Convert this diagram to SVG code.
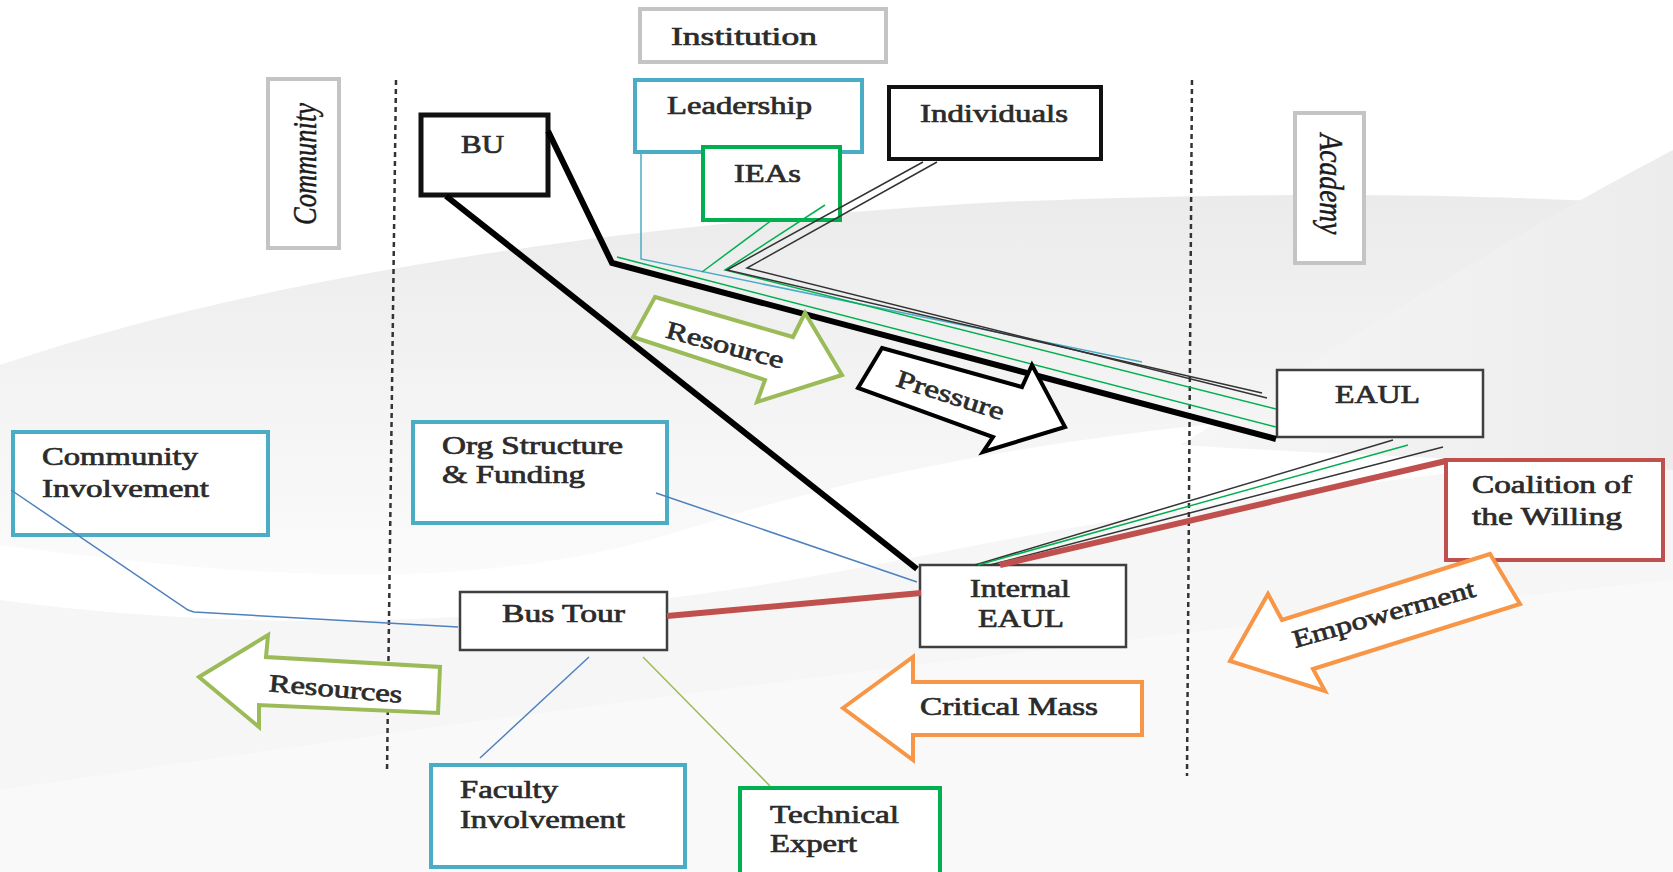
<svg xmlns="http://www.w3.org/2000/svg" width="1673" height="872" viewBox="0 0 1673 872">
<defs>
<linearGradient id="bg1" x1="0" y1="0" x2="0" y2="1">
<stop offset="0" stop-color="#ebebeb"/>
<stop offset="0.5" stop-color="#f3f3f3"/>
<stop offset="1" stop-color="#fbfbfb"/>
</linearGradient>
<linearGradient id="bg2" x1="0" y1="0" x2="1" y2="0">
<stop offset="0" stop-color="#f6f6f6"/>
<stop offset="1" stop-color="#ececec"/>
</linearGradient>
<style>
.box{fill:#fff;stroke-width:4}
.blue{stroke:#4bacc6}
.green{stroke:#00b050}
.black{stroke:#111}
.grey{stroke:#c4c4c4}
.dark{stroke:#3f3f3f;stroke-width:2.5}
.red{stroke:#c0504d}
.t{font-family:"Liberation Serif","Times New Roman",serif;font-size:25px;fill:#2b2b2b;stroke:#2b2b2b;stroke-width:0.7}
.it{font-family:"Liberation Serif","Times New Roman",serif;font-size:27px;fill:#1a1a1a;font-style:italic;stroke:#1a1a1a;stroke-width:0.4}
.ln{fill:none;stroke-linejoin:miter}
.thin{stroke-width:1.5}
.thick{stroke-width:6}
.arrow{fill:#fff;stroke-width:4;stroke-linejoin:miter}
.dot{stroke:#333;stroke-width:2.5;stroke-dasharray:5 4;fill:none}
</style>
</defs>
<rect width="1673" height="872" fill="#fff"/>
<g id="background">
<path d="M0,365 C250,280 600,225 1000,202 C1300,190 1500,195 1673,205 L1673,420 C1400,390 1000,430 700,525 C500,590 300,585 0,545 Z" fill="url(#bg1)"/>
<path d="M0,600 C300,640 600,620 900,560 C1200,500 1450,470 1673,450 L1673,872 L0,872 Z" fill="#f6f6f6"/>
<path d="M0,790 C400,730 900,660 1673,580 L1673,872 L0,872 Z" fill="#f9f9f9"/>
<path d="M1180,445 C1350,340 1500,240 1673,150 L1673,470 C1500,460 1350,455 1180,445 Z" fill="url(#bg2)"/>
</g>
<g id="dividers">
<line class="dot" x1="396" y1="80" x2="387" y2="773"/>
<line class="dot" x1="1192" y1="80" x2="1187" y2="776"/>
</g>
<g id="node-community">
<rect class="box grey" x="268" y="79" width="71" height="169"/>
<text class="it" transform="translate(316,164) rotate(-90) scale(1,1.22)" text-anchor="middle" textLength="122" lengthAdjust="spacingAndGlyphs">Community</text>
</g>
<g id="node-academy">
<rect class="box grey" x="1295" y="113" width="69" height="150"/>
<text class="it" transform="translate(1320,184) rotate(90) scale(1,1.22)" text-anchor="middle" textLength="101" lengthAdjust="spacingAndGlyphs">Academy</text>
</g>
<g id="node-institution">
<rect class="box grey" x="640" y="9" width="246" height="53"/>
<text class="t" x="671" y="45" textLength="146" lengthAdjust="spacingAndGlyphs">Institution</text>
</g>
<g id="node-leadership">
<rect class="box blue" x="635" y="80" width="227" height="72"/>
<text class="t" x="667" y="114" textLength="145" lengthAdjust="spacingAndGlyphs">Leadership</text>
</g>
<g id="node-ieas">
<rect class="box green" x="703" y="147" width="137" height="73"/>
<text class="t" x="734" y="182" textLength="67" lengthAdjust="spacingAndGlyphs">IEAs</text>
</g>
<g id="node-individuals">
<rect class="box black" x="889" y="87" width="212" height="72"/>
<text class="t" x="920" y="122" textLength="148" lengthAdjust="spacingAndGlyphs">Individuals</text>
</g>
<g id="node-bu">
<rect class="box black" x="421" y="115" width="127" height="80" style="stroke-width:5"/>
<text class="t" x="461" y="153" textLength="43" lengthAdjust="spacingAndGlyphs">BU</text>
</g>
<g id="node-eaul">
<rect class="box dark" x="1277" y="370" width="206" height="67"/>
<text class="t" x="1335" y="403" textLength="85" lengthAdjust="spacingAndGlyphs">EAUL</text>
</g>
<g id="node-coalition">
<rect class="box red" x="1446" y="460" width="217" height="100"/>
<text class="t" x="1472" y="493" textLength="160" lengthAdjust="spacingAndGlyphs">Coalition of</text>
<text class="t" x="1472" y="525" textLength="150" lengthAdjust="spacingAndGlyphs">the Willing</text>
</g>
<g id="node-internal-eaul">
<rect class="box dark" x="920" y="565" width="206" height="82"/>
<text class="t" x="970" y="597" textLength="100" lengthAdjust="spacingAndGlyphs">Internal</text>
<text class="t" x="978" y="627" textLength="86" lengthAdjust="spacingAndGlyphs">EAUL</text>
</g>
<g id="node-bus-tour">
<rect class="box dark" x="460" y="592" width="207" height="58"/>
<text class="t" x="502" y="622" textLength="123" lengthAdjust="spacingAndGlyphs">Bus Tour</text>
</g>
<g id="node-org-structure">
<rect class="box blue" x="413" y="422" width="254" height="101"/>
<text class="t" x="442" y="454" textLength="181" lengthAdjust="spacingAndGlyphs">Org Structure</text>
<text class="t" x="442" y="483" textLength="143" lengthAdjust="spacingAndGlyphs">&amp; Funding</text>
</g>
<g id="node-community-involvement">
<rect class="box blue" x="13" y="432" width="255" height="103"/>
<text class="t" x="42" y="465" textLength="156" lengthAdjust="spacingAndGlyphs">Community</text>
<text class="t" x="42" y="497" textLength="167" lengthAdjust="spacingAndGlyphs">Involvement</text>
</g>
<g id="node-faculty-involvement">
<rect class="box blue" x="431" y="765" width="254" height="102"/>
<text class="t" x="460" y="798" textLength="98" lengthAdjust="spacingAndGlyphs">Faculty</text>
<text class="t" x="460" y="828" textLength="165" lengthAdjust="spacingAndGlyphs">Involvement</text>
</g>
<g id="node-technical-expert">
<rect class="box green" x="740" y="788" width="200" height="95"/>
<text class="t" x="770" y="823" textLength="129" lengthAdjust="spacingAndGlyphs">Technical</text>
<text class="t" x="770" y="852" textLength="87" lengthAdjust="spacingAndGlyphs">Expert</text>
</g>
<g id="connectors">
<path class="ln thin" stroke="#4bacc6" d="M641,152 L641,259 L1142,362"/>
<path class="ln thin" stroke="#00b050" d="M772,220 L702,272"/>
<path class="ln thin" stroke="#00b050" d="M617,257 L1276,427"/>
<path class="ln thin" stroke="#00b050" d="M825,205 L725,270 L1276,409"/>
<path class="ln thin" stroke="#333" d="M923,162 L727,270 L1262,393"/>
<path class="ln thin" stroke="#333" d="M937,162 L747,268 L1267,398"/>
<path class="ln thick" stroke="#000" d="M548,131 L612,263 L1276,439"/>
<path class="ln thick" stroke="#000" d="M446,196 L917,569"/>
<path class="ln thin" stroke="#333" d="M1393,440 L975,565"/>
<path class="ln thin" stroke="#00b050" d="M1408,445 L978,565"/>
<path class="ln thin" stroke="#333" d="M1443,447 L990,565"/>
<path class="ln thick" stroke="#c0504d" d="M1446,461 L1000,565"/>
<path class="ln thick" stroke="#c0504d" d="M667,616 L921,593"/>
<path class="ln thin" stroke="#4f81bd" d="M656,493 L917,582"/>
<path class="ln thin" stroke="#4f81bd" d="M11,490 L188,610 L194,612 L458,627"/>
<path class="ln thin" stroke="#4f81bd" d="M589,657 L480,758"/>
<path class="ln thin" stroke="#9bbb59" d="M643,657 L770,786"/>
</g>
<g id="arrow-resource">
<polygon class="arrow" stroke="#9bbb59" points="655,297 793,337 805,313 842,375 757,402 765,380 633,337"/>
<text class="t" x="723" y="353" text-anchor="middle" transform="rotate(15 723 353)" textLength="121" lengthAdjust="spacingAndGlyphs">Resource</text>
</g>
<g id="arrow-pressure">
<polygon class="arrow" stroke="#000" points="882,348 1022,387 1032,365 1065,427 983,452 993,437 858,388"/>
<text class="t" x="948" y="403" text-anchor="middle" transform="rotate(18 948 403)" textLength="112" lengthAdjust="spacingAndGlyphs">Pressure</text>
</g>
<g id="arrow-resources">
<polygon class="arrow" stroke="#9bbb59" points="199,677 268,635 266,657 440,667 438,713 259,705 259,727"/>
<text class="t" x="335" y="697" text-anchor="middle" transform="rotate(5 335 697)" textLength="134" lengthAdjust="spacingAndGlyphs">Resources</text>
</g>
<g id="arrow-critical-mass">
<polygon class="arrow" stroke="#f79646" points="843,708 913,657 913,682 1142,682 1142,735 913,735 913,760"/>
<text class="t" x="920" y="715" textLength="178" lengthAdjust="spacingAndGlyphs">Critical Mass</text>
</g>
<g id="arrow-empowerment">
<polygon class="arrow" stroke="#f79646" points="1230,661 1268,594 1282,620 1490,554 1520,604 1313,669 1325,691"/>
<text class="t" x="1386" y="622" text-anchor="middle" transform="rotate(-16 1386 622)" textLength="189" lengthAdjust="spacingAndGlyphs">Empowerment</text>
</g>
</svg>
